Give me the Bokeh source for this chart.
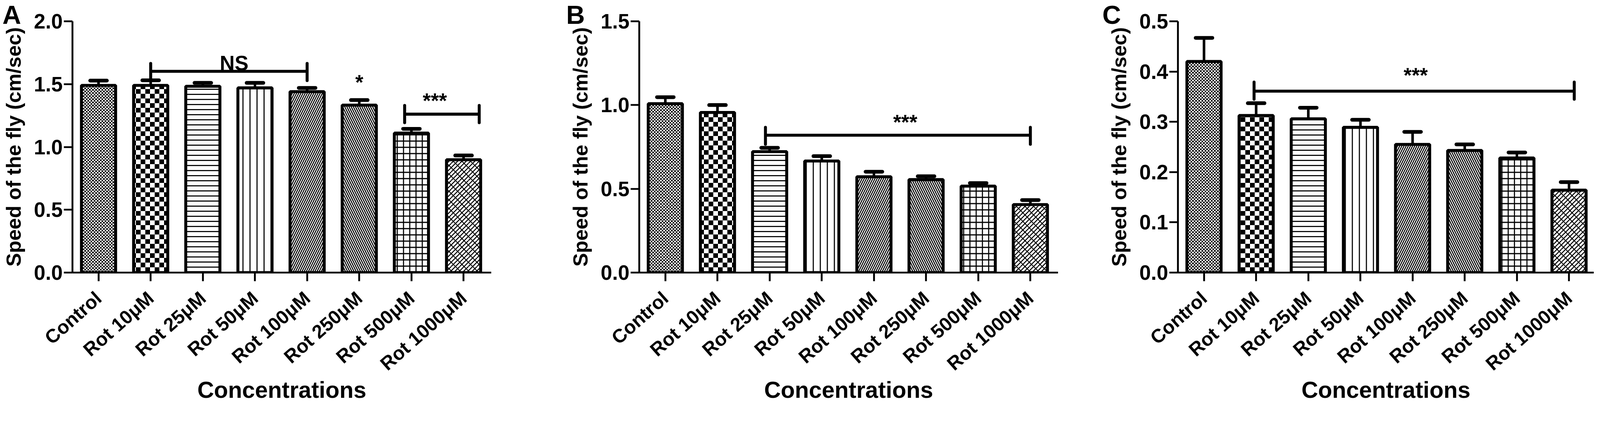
import math
from bokeh.plotting import figure
from bokeh.layouts import row
from bokeh.models import (ColumnDataSource, FixedTicker, CanvasTexture, CDSView,
                          IndexFilter, NumeralTickFormatter, Range1d)
from bokeh.embed import file_html
from bokeh.resources import INLINE
from bokeh.core.properties import value

# ---------------- data ----------------
categories = ["Control", "Rot 10\u03bcM", "Rot 25\u03bcM", "Rot 50\u03bcM",
              "Rot 100\u03bcM", "Rot 250\u03bcM", "Rot 500\u03bcM", "Rot 1000\u03bcM"]

speed_A = [1.49, 1.49, 1.483, 1.47, 1.44, 1.333, 1.11, 0.898]
upper_A = [1.528, 1.53, 1.51, 1.51, 1.47, 1.373, 1.144, 0.932]

speed_B = [1.008, 0.956, 0.722, 0.666, 0.572, 0.555, 0.516, 0.406]
upper_B = [1.047, 1.0, 0.745, 0.695, 0.602, 0.575, 0.534, 0.433]

speed_C = [0.42, 0.3125, 0.306, 0.289, 0.255, 0.243, 0.228, 0.164]
upper_C = [0.467, 0.337, 0.328, 0.304, 0.28, 0.255, 0.239, 0.18]

yticks_A = [0.0, 0.5, 1.0, 1.5, 2.0]
yticks_B = [0.0, 0.5, 1.0, 1.5]
yticks_C = [0.0, 0.1, 0.2, 0.3, 0.4, 0.5]

# significance brackets: from, to, level, cap low, cap high
br_A_x0 = [1.0, 5.87]
br_A_x1 = [4.0, 7.3]
br_A_y = [1.602, 1.261]
br_A_lo = [1.528, 1.193]
br_A_hi = [1.665, 1.33]
mk_A_text = ["NS", "*", "***"]
mk_A_x = [2.6, 5.0, 6.45]
mk_A_y = [1.668, 1.516, 1.37]

br_B_x0 = [1.92]
br_B_x1 = [7.0]
br_B_y = [0.82]
br_B_lo = [0.766]
br_B_hi = [0.867]
mk_B_text = ["***"]
mk_B_x = [4.6]
mk_B_y = [0.898]

br_C_x0 = [0.96]
br_C_x1 = [7.1]
br_C_y = [0.361]
br_C_lo = [0.345]
br_C_hi = [0.379]
mk_C_text = ["***"]
mk_C_x = [4.06]
mk_C_y = [0.393]

panel_letters = ["A", "B", "C"]
y_label = "Speed of the fly (cm/sec)"
x_label = "Concentrations"

# ---------------- style / layout ----------------
K = 4096 / 4317          # page px per reference px
FONT = "Liberation Sans"


def k(v):
    return v * K


# fill pattern per bar (tile size, line weight)
patterns = ["checker_fine", "checker", "-", "|", "/", "\\", "+", "lattice"]
pat_scale = [8, 24, 13, 18, 11, 11, 16, 22]
pat_weight = [1, 1, 2.8, 2.8, 2.6, 2.6, 2.8, 2.6]


def checker_js(s):
    return f"""
const s = {s};
if (ctx.canvas) {{ ctx.canvas.width = s; ctx.canvas.height = s; }}
ctx.setTransform(1, 0, 0, 1, 0, 0);
ctx.fillStyle = 'white';
ctx.fillRect(0, 0, s, s);
ctx.fillStyle = 'black';
ctx.fillRect(0, 0, s / 2, s / 2);
ctx.fillRect(s / 2, s / 2, s / 2, s / 2);
"""


def lattice_js(s, w):
    return f"""
const s = {s};
if (ctx.canvas) {{ ctx.canvas.width = s; ctx.canvas.height = s; }}
ctx.setTransform(1, 0, 0, 1, 0, 0);
ctx.fillStyle = 'white';
ctx.fillRect(0, 0, s, s);
ctx.strokeStyle = 'black';
ctx.lineWidth = {w};
ctx.beginPath();
for (const x0 of [-s, -s/2, 0, s/2, s]) {{ ctx.moveTo(x0, s); ctx.lineTo(x0 + s, 0); }}
ctx.stroke();
ctx.lineWidth = {w * 0.85};
ctx.beginPath();
for (const x0 of [-s, 0, s]) {{ ctx.moveTo(x0, 0); ctx.lineTo(x0 + s, s); }}
ctx.stroke();
"""


textures = {"checker_fine": CanvasTexture(code=checker_js(pat_scale[0])),
            "checker": CanvasTexture(code=checker_js(pat_scale[1])),
            "lattice": CanvasTexture(code=lattice_js(pat_scale[7], pat_weight[7]))}

PX_PER_CAT = k(140.7)
FIG_H = 1034
TOP = round(k(65)) - 8
FRAME_H = round(k(744)) - 8 - TOP
BAR_W = 0.655
CAP_HALF = 0.16


def panel(speed, upper, yticks, br, mk, letter, fig_left, fig_w, frame_left_ref,
          frame_w_ref, letter_ref):
    left = round(k(frame_left_ref)) - fig_left
    frame_w = round(k(frame_w_ref))
    right = fig_w - left - frame_w
    x_start = -0.5
    x_end = x_start + frame_w / PX_PER_CAT
    ymax = yticks[-1]

    p = figure(width=fig_w, height=FIG_H, output_backend="svg", toolbar_location=None,
               x_range=Range1d(x_start, x_end), y_range=Range1d(0, ymax),
               min_border_left=left, min_border_right=right,
               min_border_top=TOP, min_border_bottom=FIG_H - TOP - FRAME_H,
               title=letter)
    p.outline_line_color = None
    p.xgrid.visible = False
    p.ygrid.visible = False
    p.background_fill_color = "white"

    # panel letter: left-aligned title pulled out over the axis area
    p.title.align = "left"
    p.title.offset = -k(frame_left_ref - letter_ref)
    p.title.standoff = -40
    p.title.vertical_align = "bottom"
    p.title.text_font = FONT
    p.title.text_font_style = "bold"
    p.title.text_font_size = "66px"
    p.title.text_color = "black"

    xs = list(range(len(categories)))
    src = ColumnDataSource(dict(
        x=xs, top=speed, upper=upper,
        cl=[x - CAP_HALF for x in xs], cr=[x + CAP_HALF for x in xs]))

    for i in xs:
        p.vbar(x="x", top="top", width=BAR_W, bottom=0, source=src,
               view=CDSView(filter=IndexFilter([i])),
               fill_color="white", line_color="black", line_width=k(8),
               hatch_pattern=value(patterns[i]), hatch_scale=pat_scale[i],
               hatch_weight=pat_weight[i], hatch_color="black",
               hatch_extra=textures)
    p.segment(x0="x", y0="top", x1="x", y1="upper", source=src,
              line_color="black", line_width=k(7))
    p.segment(x0="cl", y0="upper", x1="cr", y1="upper", source=src,
              line_color="black", line_width=k(10), line_cap="round")

    bx0, bx1, by, blo, bhi = br
    bsrc = ColumnDataSource(dict(x0=bx0, x1=bx1, y=by, lo=blo, hi=bhi))
    p.segment(x0="x0", y0="y", x1="x1", y1="y", source=bsrc,
              line_color="black", line_width=k(8))
    p.segment(x0="x0", y0="lo", x1="x0", y1="hi", source=bsrc,
              line_color="black", line_width=k(8), line_cap="round")
    p.segment(x0="x1", y0="lo", x1="x1", y1="hi", source=bsrc,
              line_color="black", line_width=k(8), line_cap="round")

    mt, mx, my = mk
    msrc = ColumnDataSource(dict(t=mt, x=mx, y=my))
    p.text(x="x", y="y", text="t", source=msrc, text_align="center",
           text_baseline="alphabetic", text_font=value(FONT),
           text_font_style="bold", text_font_size="53px", text_color="black")

    # axes
    xa = p.xaxis[0]
    xa.ticker = FixedTicker(ticks=xs)
    xa.major_label_overrides = {i: c for i, c in enumerate(categories)}
    xa.major_label_orientation = math.radians(41.5)
    xa.major_label_standoff = 36
    xa.axis_label = x_label
    xa.axis_label_standoff = -16
    xa.axis_label_text_font_size = "59px"
    ya = p.yaxis[0]
    ya.ticker = FixedTicker(ticks=yticks)
    ya.formatter = NumeralTickFormatter(format="0.0")
    ya.axis_label = y_label
    ya.axis_label_standoff = 20
    ya.major_label_standoff = 3
    ya.axis_label_text_font_size = "52px"
    for ax, fs in ((xa, "49px"), (ya, "53px")):
        ax.axis_line_width = k(5)
        ax.axis_line_color = "black"
        ax.major_tick_line_width = k(5)
        ax.major_tick_line_color = "black"
        ax.major_tick_out = round(k(23))
        ax.major_tick_in = 0
        ax.minor_tick_line_color = None
        ax.major_label_text_font = FONT
        ax.major_label_text_font_style = "bold"
        ax.major_label_text_font_size = fs
        ax.major_label_text_color = "black"
        ax.axis_label_text_font = FONT
        ax.axis_label_text_font_style = "bold"
        ax.axis_label_text_color = "black"
    return p


W_A, W_B = 1370, 1362
W_C = 4080 - W_A - W_B
pA = panel(speed_A, upper_A, yticks_A,
           (br_A_x0, br_A_x1, br_A_y, br_A_lo, br_A_hi),
           (mk_A_text, mk_A_x, mk_A_y), panel_letters[0],
           8, W_A, 203, 1130, 14)
pB = panel(speed_B, upper_B, yticks_B,
           (br_B_x0, br_B_x1, br_B_y, br_B_lo, br_B_hi),
           (mk_B_text, mk_B_x, mk_B_y), panel_letters[1],
           8 + W_A, W_B, 1733, 1130, 1536)
pC = panel(speed_C, upper_C, yticks_C,
           (br_C_x0, br_C_x1, br_C_y, br_C_lo, br_C_hi),
           (mk_C_text, mk_C_x, mk_C_y), panel_letters[2],
           8 + W_A + W_B, W_C, 3186, 1122, 2982)

layout = row(pA, pB, pC)
open("out.html", "w").write(file_html(layout, INLINE))
